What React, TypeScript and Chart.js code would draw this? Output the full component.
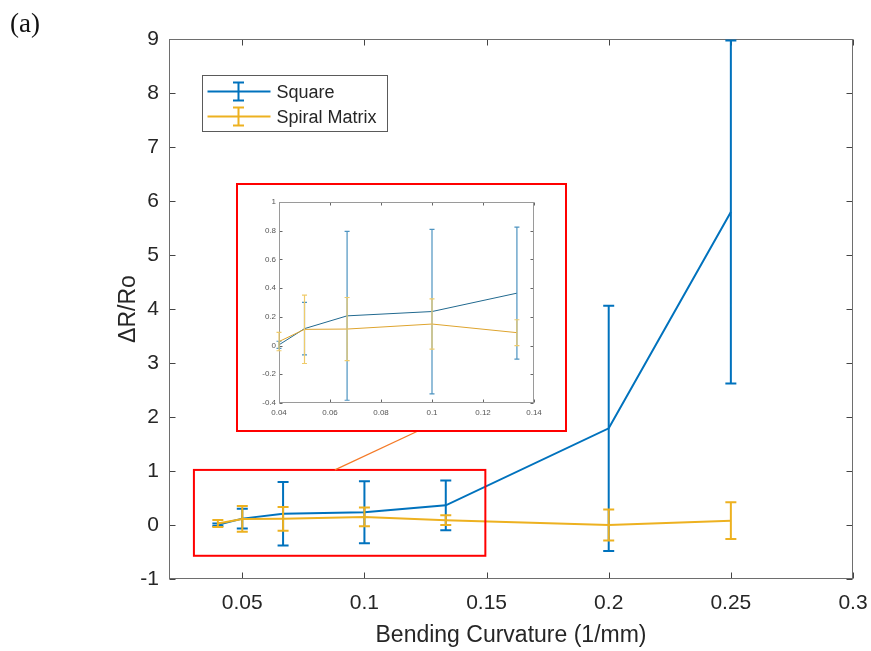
import { useEffect, useRef } from "react";
import { Chart, registerables } from "chart.js";

Chart.register(...registerables);

// Bending curvature (1/mm): 1/25, 1/20, 1/15, 1/10, 1/7.5, 1/5, 1/4
const curvature = [0.04, 0.05, 0.0667, 0.1, 0.1333, 0.2, 0.25];
const squareMean = [0.005, 0.118, 0.207, 0.237, 0.365, 1.79, 5.795];
const squareErr = [0.025, 0.183, 0.588, 0.573, 0.46, 2.27, 3.175];
const spiralMean = [0.028, 0.113, 0.115, 0.15, 0.09, 0.0, 0.08];
const spiralErr = [0.064, 0.238, 0.22, 0.175, 0.09, 0.285, 0.34];

const xTicks = [0.05, 0.1, 0.15, 0.2, 0.25, 0.3];
const yTicks = [-1, 0, 1, 2, 3, 4, 5, 6, 7, 8, 9];
const insetXTicks = [0.04, 0.06, 0.08, 0.1, 0.12, 0.14];
const insetYTicks = [-0.4, -0.2, 0, 0.2, 0.4, 0.6, 0.8, 1];
const insetPoints = 5; // the zoomed view shows the first five curvatures

// region of the main axes magnified in the inset (data units)
const zoomX = [0.0302, 0.1495];
const zoomY = [-0.57, 1.02];

const BLUE = "#0072BD";
const YELLOW = "#EDB120";
const SANS = "'Liberation Sans', Arial, sans-serif";

const W = 871;
const H = 651;
const INSET = { left: 236, top: 183, width: 331, height: 249, border: 2 };

const toPoints = (ys: number[], n = ys.length) =>
  curvature.slice(0, n).map((x, i) => ({ x, y: ys[i] }));

const fixedTicks = (vals: number[]) => (scale: any) => {
  scale.ticks = vals.map((v) => ({ value: v }));
};

// keep tick-label overflow from shrinking the plot area
const fitX = (h: number) => (s: any) => {
  s.height = h;
  s.paddingLeft = 0;
  s.paddingRight = 0;
};
const fitY = (w: number) => (s: any) => {
  s.width = w;
  s.paddingTop = 0;
  s.paddingBottom = 0;
};

function boxPlugin(color: string, tickLen: number, tickColor: string) {
  return {
    id: "axesBox",
    beforeDatasetsDraw(chart: any) {
      const { ctx, chartArea, scales } = chart;
      const l = Math.round(chartArea.left) + 0.5;
      const r = Math.round(chartArea.right) - 0.5;
      const t = Math.round(chartArea.top) + 0.5;
      const b = Math.round(chartArea.bottom) - 0.5;
      ctx.save();
      ctx.lineWidth = 1;
      ctx.strokeStyle = tickColor;
      ctx.beginPath();
      for (const tk of scales.x.ticks) {
        const px = Math.round(scales.x.getPixelForValue(tk.value)) + 0.5;
        ctx.moveTo(px, b);
        ctx.lineTo(px, b - tickLen);
        ctx.moveTo(px, t);
        ctx.lineTo(px, t + tickLen);
      }
      for (const tk of scales.y.ticks) {
        const py = Math.round(scales.y.getPixelForValue(tk.value)) + 0.5;
        ctx.moveTo(l, py);
        ctx.lineTo(l + tickLen, py);
        ctx.moveTo(r, py);
        ctx.lineTo(r - tickLen, py);
      }
      ctx.stroke();
      ctx.strokeStyle = color;
      ctx.strokeRect(l, t, r - l, b - t);
      ctx.restore();
    },
  };
}

function errorBarPlugin(lineWidth: number, cap: number) {
  return {
    id: "errorBars",
    afterDatasetDraw(chart: any, args: any) {
      const ds = chart.data.datasets[args.index];
      const errs: number[] | undefined = ds.errors;
      if (!errs) return;
      const { ctx, scales } = chart;
      ctx.save();
      ctx.strokeStyle = ds.errorColor || ds.borderColor;
      ctx.lineWidth = lineWidth;
      ctx.beginPath();
      ds.data.forEach((p: { x: number; y: number }, i: number) => {
        const px = scales.x.getPixelForValue(p.x);
        const top = scales.y.getPixelForValue(p.y + errs[i]);
        const bot = scales.y.getPixelForValue(p.y - errs[i]);
        ctx.moveTo(px, top);
        ctx.lineTo(px, bot);
        ctx.moveTo(px - cap, top);
        ctx.lineTo(px + cap, top);
        ctx.moveTo(px - cap, bot);
        ctx.lineTo(px + cap, bot);
      });
      ctx.stroke();
      ctx.restore();
    },
  };
}

// magnified-region outline, connector to the inset, and the legend
const overlayPlugin = {
  id: "overlay",
  afterDraw(chart: any) {
    const { ctx, scales, chartArea } = chart;
    const x0 = scales.x.getPixelForValue(zoomX[0]);
    const x1 = scales.x.getPixelForValue(zoomX[1]);
    const y0 = scales.y.getPixelForValue(zoomY[1]);
    const y1 = scales.y.getPixelForValue(zoomY[0]);
    ctx.save();
    ctx.strokeStyle = "#ff0000";
    ctx.lineWidth = 2;
    ctx.strokeRect(x0, y0, x1 - x0, y1 - y0);

    ctx.strokeStyle = "#f47a28";
    ctx.lineWidth = 1.3;
    ctx.beginPath();
    ctx.moveTo(INSET.left + 182, INSET.top + INSET.height - 1);
    ctx.lineTo(x0 + 141, y0);
    ctx.stroke();

    // legend
    const bx = Math.round(chartArea.left + 33) + 0.5;
    const by = Math.round(chartArea.top + 36) + 0.5;
    const bw = 185;
    const bh = 56;
    ctx.fillStyle = "#ffffff";
    ctx.fillRect(bx, by, bw, bh);
    ctx.strokeStyle = "#5a5a5a";
    ctx.lineWidth = 1;
    ctx.strokeRect(bx, by, bw, bh);
    const rows = [by + 16, by + 41];
    const items = [chart.data.datasets[0], chart.data.datasets[1]];
    items.forEach((ds: any, i: number) => {
      const ry = rows[i];
      const cx = bx + 36;
      ctx.strokeStyle = ds.borderColor;
      ctx.lineWidth = 2;
      ctx.beginPath();
      ctx.moveTo(bx + 5, ry);
      ctx.lineTo(bx + 68, ry);
      ctx.moveTo(cx, ry - 9);
      ctx.lineTo(cx, ry + 9);
      ctx.moveTo(cx - 5.5, ry - 9);
      ctx.lineTo(cx + 5.5, ry - 9);
      ctx.moveTo(cx - 5.5, ry + 9);
      ctx.lineTo(cx + 5.5, ry + 9);
      ctx.stroke();
      ctx.fillStyle = "#262626";
      ctx.font = `18px ${SANS}`;
      ctx.textAlign = "left";
      ctx.textBaseline = "middle";
      ctx.fillText(ds.label, bx + 74, ry + 2);
    });
    ctx.restore();
  },
};

export default function App() {
  const mainRef = useRef<HTMLCanvasElement>(null);
  const insetRef = useRef<HTMLCanvasElement>(null);

  useEffect(() => {
    const main = new Chart(mainRef.current!, {
      type: "line",
      data: {
        datasets: [
          {
            label: "Square",
            data: toPoints(squareMean),
            errors: squareErr,
            borderColor: BLUE,
            backgroundColor: BLUE,
            borderWidth: 2,
            pointRadius: 0,
            order: 1,
          } as any,
          {
            label: "Spiral Matrix",
            data: toPoints(spiralMean),
            errors: spiralErr,
            borderColor: YELLOW,
            backgroundColor: YELLOW,
            borderWidth: 2,
            pointRadius: 0,
            order: 0,
          } as any,
        ],
      },
      options: {
        responsive: false,
        animation: false,
        events: [],
        layout: { padding: { left: 0, right: 18, top: 39, bottom: 0 } },
        plugins: { legend: { display: false }, tooltip: { enabled: false } },
        scales: {
          x: {
            type: "linear",
            min: 0.02,
            max: 0.3,
            afterBuildTicks: fixedTicks(xTicks),
            afterFit: fitX(72),
            grid: { display: false, drawTicks: false },
            border: { display: false },
            ticks: {
              autoSkip: false,
              maxRotation: 0,
              padding: 12,
              color: "#262626",
              font: { family: SANS, size: 21 },
              callback: (v: any) => String(v),
            },
            title: {
              display: true,
              text: "Bending Curvature (1/mm)",
              color: "#262626",
              font: { family: SANS, size: 23 },
              padding: { top: 0, bottom: 2 },
            },
          },
          y: {
            type: "linear",
            min: -1,
            max: 9,
            afterBuildTicks: fixedTicks(yTicks),
            afterFit: fitY(169),
            grid: { display: false, drawTicks: false },
            border: { display: false },
            ticks: {
              autoSkip: false,
              padding: 10,
              color: "#262626",
              font: { family: SANS, size: 21 },
              callback: (v: any) => String(v),
            },
            title: {
              display: true,
              text: "ΔR/Ro",
              color: "#262626",
              font: { family: SANS, size: 23 },
              padding: { top: 115, bottom: 0 },
            },
          },
        },
      } as any,
      plugins: [boxPlugin("#6e6e6e", 6, "#444444"), errorBarPlugin(2, 5.5), overlayPlugin],
    });

    const inset = new Chart(insetRef.current!, {
      type: "line",
      data: {
        datasets: [
          {
            label: "Square",
            data: toPoints(squareMean, insetPoints),
            errors: squareErr.slice(0, insetPoints),
            borderColor: "#21698f",
            errorColor: "#4d93c0",
            borderWidth: 1,
            pointRadius: 0,
            order: 1,
          } as any,
          {
            label: "Spiral Matrix",
            data: toPoints(spiralMean, insetPoints),
            errors: spiralErr.slice(0, insetPoints),
            borderColor: "#dea42e",
            errorColor: "#efcb6a",
            borderWidth: 1,
            pointRadius: 0,
            order: 0,
          } as any,
        ],
      },
      options: {
        responsive: false,
        animation: false,
        events: [],
        layout: { padding: { left: 0, right: 31, top: 17, bottom: 0 } },
        plugins: { legend: { display: false }, tooltip: { enabled: false } },
        scales: {
          x: {
            type: "linear",
            min: 0.04,
            max: 0.14,
            afterBuildTicks: fixedTicks(insetXTicks),
            afterFit: fitX(27),
            grid: { display: false, drawTicks: false },
            border: { display: false },
            ticks: {
              autoSkip: false,
              maxRotation: 0,
              padding: 5,
              color: "#555555",
              font: { family: SANS, size: 8 },
              callback: (v: any) => String(v),
            },
          },
          y: {
            type: "linear",
            min: -0.4,
            max: 1,
            afterBuildTicks: fixedTicks(insetYTicks),
            afterFit: fitY(41),
            grid: { display: false, drawTicks: false },
            border: { display: false },
            ticks: {
              autoSkip: false,
              padding: 3,
              color: "#555555",
              font: { family: SANS, size: 8 },
              callback: (v: any) => String(v),
            },
          },
        },
      } as any,
      plugins: [boxPlugin("#9a9a9a", 3, "#666666"), errorBarPlugin(1.2, 2.5)],
    });

    return () => {
      main.destroy();
      inset.destroy();
    };
  }, []);

  const innerW = INSET.width - 2 * INSET.border;
  const innerH = INSET.height - 2 * INSET.border;

  return (
    <div style={{ position: "fixed", left: 0, top: 0, width: W, height: H, background: "#ffffff", overflow: "hidden" }}>
      <canvas ref={mainRef} width={W} height={H} style={{ position: "absolute", left: 0, top: 0, width: W, height: H }} />
      <div
        style={{
          position: "absolute",
          left: 10,
          top: 10,
          fontFamily: "'Liberation Serif', 'Times New Roman', serif",
          fontSize: 27,
          lineHeight: "27px",
          color: "#111111",
        }}
      >
        (a)
      </div>
      <div
        style={{
          position: "absolute",
          left: INSET.left,
          top: INSET.top,
          width: INSET.width,
          height: INSET.height,
          boxSizing: "border-box",
          border: `${INSET.border}px solid #ff0000`,
          background: "#ffffff",
        }}
      >
        <canvas
          ref={insetRef}
          width={innerW}
          height={innerH}
          style={{ display: "block", width: innerW, height: innerH, filter: "blur(0.35px)" }}
        />
      </div>
    </div>
  );
}
